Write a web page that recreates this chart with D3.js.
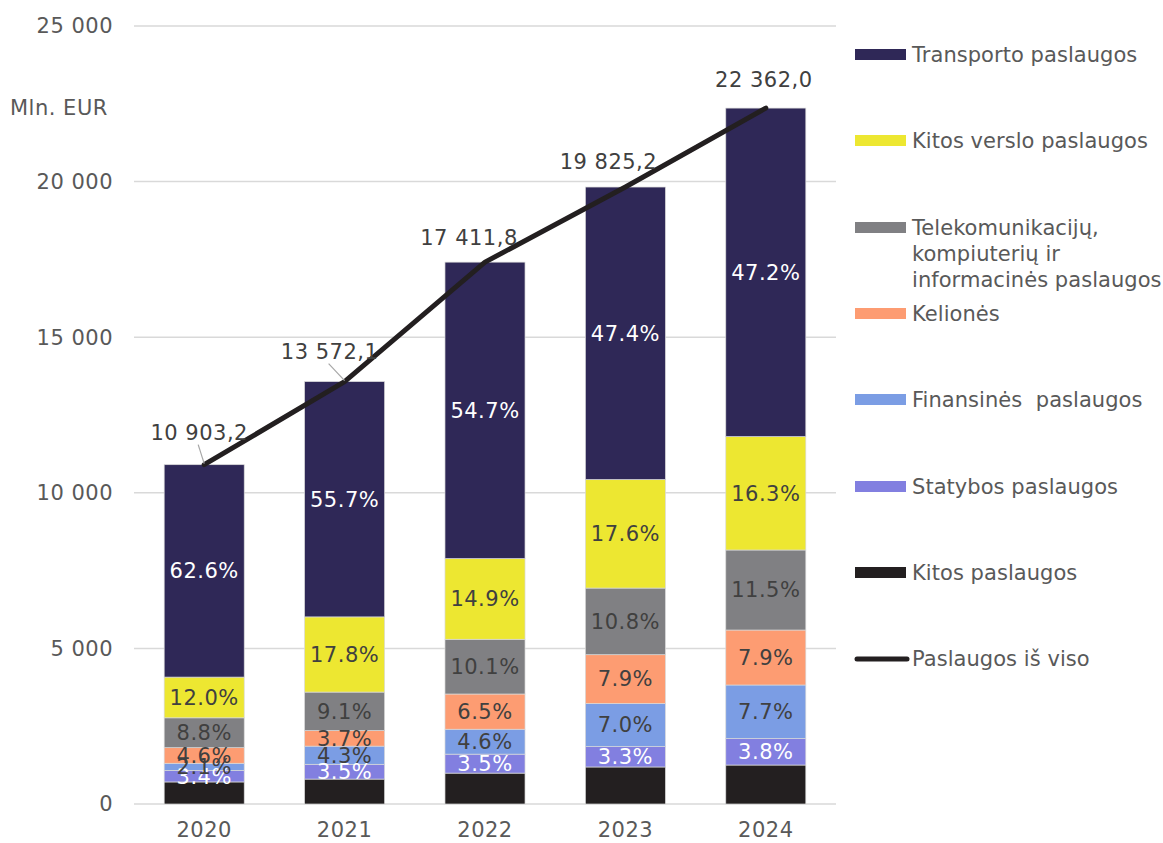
<!DOCTYPE html>
<html>
<head>
<meta charset="utf-8">
<script src="https://cdn.jsdelivr.net/npm/d3@7"></script>
<style>
  body { margin: 0; background: #fff; }
  text { font-family: "DejaVu Sans", Verdana, sans-serif; letter-spacing: 0.5px; }
  .legend text { letter-spacing: 0.05px; }
</style>
</head>
<body>
<script>
// Width and height
const w = 1163;
const h = 843;
const fs = 21;

// Data
const years = ["2020", "2021", "2022", "2023", "2024"];
const totals = [10903.2, 13572.1, 17411.8, 19825.2, 22362.0];
const totalLabels = ["10 903,2", "13 572,1", "17 411,8", "19 825,2", "22 362,0"];

// shares in %, bottom to top
const kitosPaslaugos = [6.5, 5.9, 5.7, 6.0, 5.6];
const statybos = [3.4, 3.5, 3.5, 3.3, 3.8];
const finansines = [2.1, 4.3, 4.6, 7.0, 7.7];
const kelliones = [4.6, 3.7, 6.5, 7.9, 7.9];
const telekom = [8.8, 9.1, 10.1, 10.8, 11.5];
const kitosVerslo = [12.0, 17.8, 14.9, 17.6, 16.3];
const transporto = [62.6, 55.7, 54.7, 47.4, 47.2];

const yTicks = [0, 5000, 10000, 15000, 20000, 25000];

const series = [
  { name: "Kitos paslaugos", values: kitosPaslaugos, color: "#231f20", label: null },
  { name: "Statybos paslaugos", values: statybos, color: "#827fe0", label: "#ffffff" },
  { name: "Finansinės\u00a0 paslaugos", values: finansines, color: "#7b9de4", label: "#404040" },
  { name: "Kelionės", values: kelliones, color: "#fd9c72", label: "#404040" },
  { name: "Telekomunikacijų,\nkompiuterių ir\ninformacinės paslaugos", values: telekom, color: "#808083", label: "#404040" },
  { name: "Kitos verslo paslaugos", values: kitosVerslo, color: "#ede731", label: "#404040" },
  { name: "Transporto paslaugos", values: transporto, color: "#2f2857", label: "#ffffff" }
];

// build table for the stack
const rows = years.map((y, i) => {
  const r = { year: y };
  series.forEach(s => { r[s.name] = s.values[i] * totals[i] / 100; });
  return r;
});

const stack = d3.stack().keys(series.map(s => s.name));
const stacked = stack(rows);

// Scales
const x = d3.scaleBand()
  .domain(years)
  .range([134, 836])
  .paddingInner(0.43)
  .paddingOuter(0.215);

const y = d3.scaleLinear()
  .domain([0, 25000])
  .range([804, 26]);

const svg = d3.select("body")
  .append("svg")
  .attr("width", w)
  .attr("height", h);

// gridlines
svg.append("g")
  .selectAll("line")
  .data(yTicks)
  .enter()
  .append("line")
  .attr("x1", 134)
  .attr("x2", 836)
  .attr("y1", d => y(d))
  .attr("y2", d => y(d))
  .attr("stroke", "#d9d9d9")
  .attr("stroke-width", 1.5);

// y tick labels
const fmt = v => d3.format(",")(v).replace(/,/g, " ");
svg.append("g")
  .selectAll("text")
  .data(yTicks)
  .enter()
  .append("text")
  .attr("x", 113)
  .attr("y", d => y(d))
  .attr("dy", "0.35em")
  .attr("text-anchor", "end")
  .attr("font-size", fs)
  .attr("fill", "#595959")
  .text(fmt);

svg.append("text")
  .attr("x", 10)
  .attr("y", 108)
  .attr("dy", "0.35em")
  .attr("font-size", fs)
  .attr("fill", "#595959")
  .text("Mln. EUR");

// x labels
svg.append("g")
  .selectAll("text")
  .data(years)
  .enter()
  .append("text")
  .attr("x", d => x(d) + x.bandwidth() / 2)
  .attr("y", 830)
  .attr("dy", "0.35em")
  .attr("text-anchor", "middle")
  .attr("font-size", fs)
  .attr("fill", "#595959")
  .text(d => d);

// bars
const layers = svg.append("g")
  .selectAll("g")
  .data(stacked)
  .enter()
  .append("g")
  .attr("fill", (d, i) => series[i].color);

layers.selectAll("rect")
  .data(d => d)
  .enter()
  .append("rect")
  .attr("x", d => x(d.data.year))
  .attr("y", d => y(d[1]))
  .attr("width", x.bandwidth())
  .attr("height", d => y(d[0]) - y(d[1]))
  .attr("stroke", "#d9d9d9")
  .attr("stroke-width", 0.7);

// percentage labels
stacked.forEach((layer, i) => {
  const s = series[i];
  if (!s.label) return;
  svg.append("g")
    .selectAll("text")
    .data(layer)
    .enter()
    .append("text")
    .attr("x", d => x(d.data.year) + x.bandwidth() / 2)
    .attr("y", d => (y(d[0]) + y(d[1])) / 2)
    .attr("dy", "0.35em")
    .attr("text-anchor", "middle")
    .attr("font-size", fs)
    .attr("fill", s.label)
    .text((d, j) => s.values[j].toFixed(1) + "%");
});

// total line
const line = d3.line()
  .x((d, i) => x(years[i]) + x.bandwidth() / 2)
  .y(d => y(d));

svg.append("path")
  .datum(totals)
  .attr("d", line)
  .attr("fill", "none")
  .attr("stroke", "#231f20")
  .attr("stroke-width", 5)
  .attr("stroke-linecap", "round")
  .attr("stroke-linejoin", "round");

// total labels (offset from point: dx, dy) and leader lines
const labelOffsets = [[-5, -32], [-15, -30], [-16, -24], [-17, -25], [-2, -28]];
totals.forEach((t, i) => {
  const px = x(years[i]) + x.bandwidth() / 2;
  const py = y(t);
  const lx = px + labelOffsets[i][0];
  const ly = py + labelOffsets[i][1];
  if (i < 2) {
    svg.append("line")
      .attr("x1", lx - 1).attr("y1", ly + 12)
      .attr("x2", px).attr("y2", py - 1)
      .attr("stroke", "#a6a6a6")
      .attr("stroke-width", 1.2);
  }
  svg.append("text")
    .attr("x", lx)
    .attr("y", ly)
    .attr("dy", "0.35em")
    .attr("text-anchor", "middle")
    .attr("font-size", fs)
    .attr("fill", "#404040")
    .text(totalLabels[i]);
});

// legend
const legendItems = series.slice().reverse();
const legendY = [55, 141, 228, 314, 400, 487, 573];
const legend = svg.append("g").attr("class", "legend");
legendItems.forEach((s, i) => {
  legend.append("rect")
    .attr("x", 855)
    .attr("y", legendY[i] - 6)
    .attr("width", 51)
    .attr("height", 11)
    .attr("fill", s.color);
  const t = legend.append("text")
    .attr("x", 912)
    .attr("y", legendY[i])
    .attr("font-size", fs)
    .attr("fill", "#595959");
  s.name.split("\n").forEach((ln, k) => {
    t.append("tspan")
      .attr("x", 912)
      .attr("dy", k === 0 ? "0.35em" : "1.22em")
      .text(ln);
  });
});
legend.append("line")
  .attr("x1", 857).attr("x2", 907)
  .attr("y1", 659).attr("y2", 659)
  .attr("stroke", "#231f20")
  .attr("stroke-width", 5)
  .attr("stroke-linecap", "round");
legend.append("text")
  .attr("x", 912)
  .attr("y", 659)
  .attr("dy", "0.35em")
  .attr("font-size", fs)
  .attr("fill", "#595959")
  .text("Paslaugos iš viso");
</script>
</body>
</html>
